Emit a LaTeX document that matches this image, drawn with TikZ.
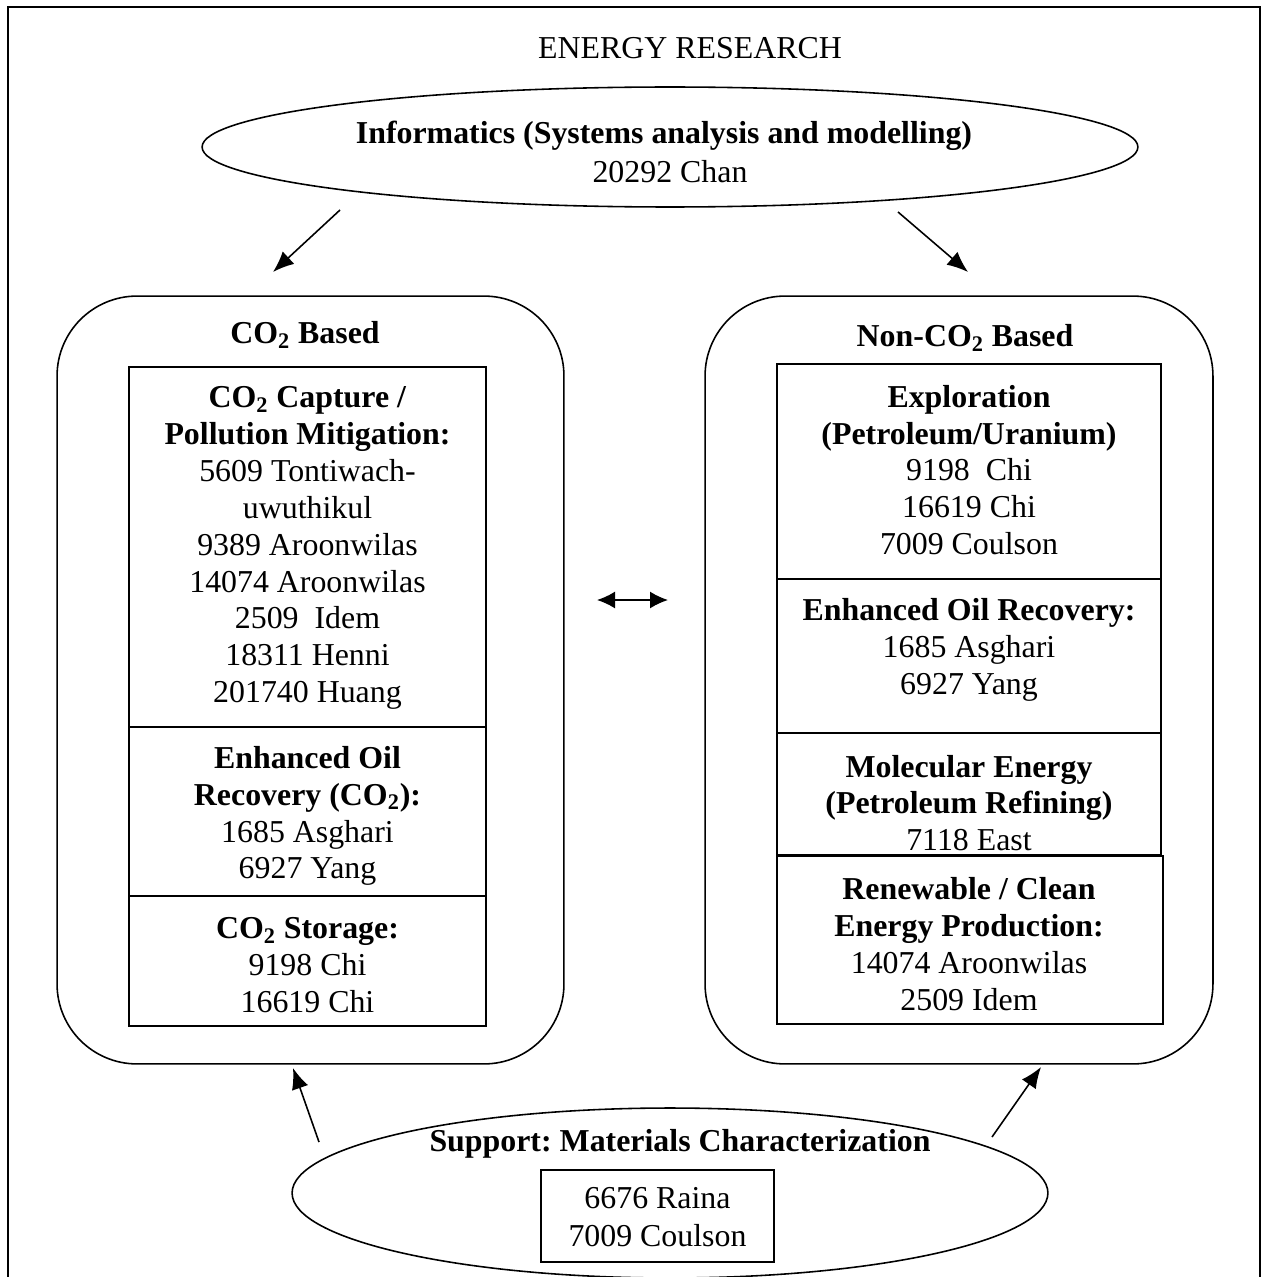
\documentclass[tikz,border=0pt]{standalone}
\usepackage{fontspec}
\setmainfont{Liberation Serif}
\usetikzlibrary{arrows.meta,shapes.geometric}
\frenchspacing
\newcommand\fs{\fontsize{18.14pt}{21pt}\selectfont}
\tikzset{
  txt/.style={align=center,font=\fs,inner sep=0pt},
  btxt/.style={align=center,font=\fs\bfseries,inner sep=0pt},
  boxln/.style={draw,line width=0.9pt,inner sep=0pt},
  arr/.style={line width=0.9pt,-{Latex[length=0.42cm,width=0.34cm]}},
  darr/.style={line width=0.9pt,{Latex[length=0.36cm,width=0.34cm]}-{Latex[length=0.36cm,width=0.34cm]}}
}
\begin{document}
\begin{tikzpicture}[x=0.02cm,y=-0.02cm]
\useasboundingbox (0,0) rectangle (1267,1277);
% outer frame (open at bottom)
\draw[line width=1.2pt] (8,1277) -- (8,7) -- (1260,7) -- (1260,1277);
\node[txt] (title) at (690,48) {ENERGY RESEARCH};

% top ellipse
\node[boxln,ellipse,minimum width=18.72cm,minimum height=2.4cm] (infoell) at (670,147) {};
\node[btxt] (info1) at (664,136) {Informatics (Systems analysis and modelling)};
\node[txt] (info2) at (670,172) {20292 Chan};

% containers
\node[boxln,rounded corners=1.6cm,minimum width=10.14cm,minimum height=15.36cm] (co2) at (310.5,680) {};
\node[boxln,rounded corners=1.6cm,minimum width=10.16cm,minimum height=15.36cm] (nonco2) at (959,680) {};
\node[btxt] (co2h) at (305,335) {CO\textsubscript{2} Based};
\node[btxt] (nonco2h) at (965,338) {Non-CO\textsubscript{2} Based};

% left inner box
\node[boxln,minimum width=7.14cm,minimum height=13.18cm] (lbox) at (307.5,696.5) {};
\draw[line width=1.3pt] (lbox.west |- 0,727) -- (lbox.east |- 0,727);
\draw[line width=0.9pt] (lbox.west |- 0,896) -- (lbox.east |- 0,896);
\node[txt] (l1) at (307.5,548) {\textbf{CO\textsubscript{2} Capture /}\\\textbf{Pollution Mitigation:}\\5609 Tontiwach-\\uwuthikul\\9389 Aroonwilas\\14074 Aroonwilas\\2509\ \ Idem\\18311 Henni\\201740 Huang};
\node[txt] (l2) at (307.5,816) {\textbf{Enhanced Oil}\\\textbf{Recovery (CO\textsubscript{2}):}\\1685 Asghari\\6927 Yang};
\node[txt] (l3) at (307.5,965) {\textbf{CO\textsubscript{2} Storage:}\\9198 Chi\\16619 Chi};

% right inner boxes
\node[boxln,minimum width=7.68cm,minimum height=9.82cm] (rbox) at (969,609.5) {};
\draw[line width=0.9pt] (rbox.west |- 0,579) -- (rbox.east |- 0,579);
\draw[line width=0.9pt] (rbox.west |- 0,733) -- (rbox.east |- 0,733);
\node[boxln,minimum width=7.72cm,minimum height=3.36cm] (rbox2) at (970,940) {};
\node[txt] (r1) at (969,470) {\textbf{Exploration}\\\textbf{(Petroleum/Uranium)}\\9198\ \ Chi\\16619 Chi\\7009 Coulson};
\node[txt] (r2) at (969,650) {\textbf{Enhanced Oil Recovery:}\\1685 Asghari\\6927 Yang};
\node[txt] (r3) at (969,803) {\textbf{Molecular Energy}\\\textbf{(Petroleum Refining)}\\7118 East};
\node[txt] (r4) at (969,944) {\textbf{Renewable / Clean}\\\textbf{Energy Production:}\\14074 Aroonwilas\\2509 Idem};

% bottom ellipse
\node[boxln,ellipse,minimum width=15.12cm,minimum height=3.4cm] (suppell) at (670,1193) {};
\node[btxt] (supp) at (680,1144) {Support: Materials Characterization};
\node[boxln,minimum width=4.66cm,minimum height=1.84cm] (suppbox) at (657.5,1216) {};
\node[txt] (s1) at (657.5,1198) {6676 Raina};
\node[txt] (s2) at (657.5,1236) {7009 Coulson};

% arrows
\coordinate (a1s) at (340,210);
\coordinate (a1e) at (273,272);
\coordinate (a2s) at (898,212);
\coordinate (a2e) at (968,272);
\coordinate (a3s) at (319,1142);
\coordinate (a3e) at (293,1068);
\coordinate (a4s) at (992,1137);
\coordinate (a4e) at (1041,1067);
\coordinate (dl) at (597,600);
\coordinate (dr) at (668,600);
\draw[arr] (a1s) -- (a1e);
\draw[arr] (a2s) -- (a2e);
\draw[arr] (a3s) -- (a3e);
\draw[arr] (a4s) -- (a4e);
\draw[darr] (dl) -- (dr);
\end{tikzpicture}
\end{document}
